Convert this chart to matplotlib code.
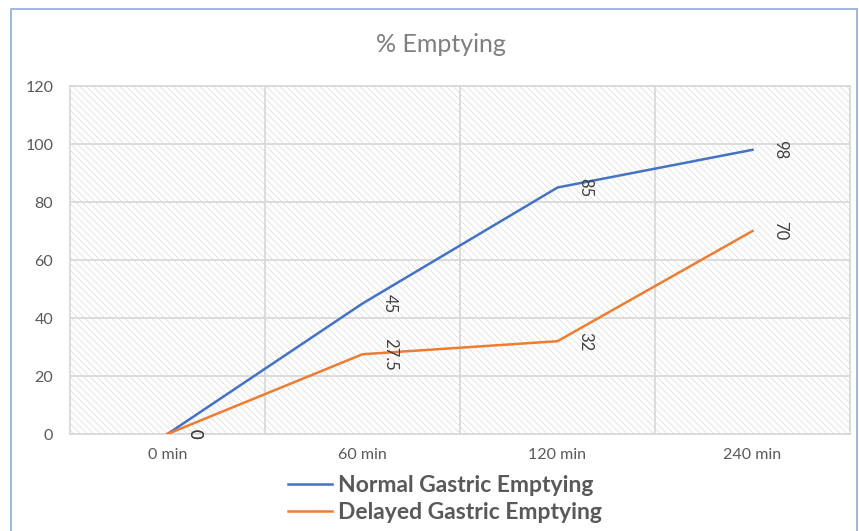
import matplotlib.pyplot as plt
import matplotlib as mpl
from matplotlib.patches import Rectangle

categories = ["0 min", "60 min", "120 min", "240 min"]
normal = [0, 45, 85, 98]
delayed = [0, 27.5, 32, 70]
series_names = ["Normal Gastric Emptying", "Delayed Gastric Emptying"]

plt.rcParams['font.family'] = ['Lato', 'DejaVu Sans']
mpl.rcParams['hatch.linewidth'] = 0.5
mpl.rcParams['hatch.color'] = '#d9d9d9'

fig = plt.figure(figsize=(8.59, 5.31), dpi=100)
ax = fig.add_axes([70 / 859, 1 - 434 / 531, 780 / 859, 348 / 531])

x = list(range(len(categories)))

# hatched plot area like the excel pattern fill
ax.add_patch(Rectangle((0, 0), 1, 1, transform=ax.transAxes, facecolor='white',
                       edgecolor='#d9d9d9', hatch='\\\\\\\\\\', linewidth=0, zorder=0))

ax.set_xlim(-0.5, 3.5)
ax.set_ylim(0, 120)
ax.set_yticks(range(0, 121, 20))
ax.set_xticks(x)
ax.set_xticklabels(categories)
ax.set_xticks([0.5, 1.5, 2.5], minor=True)

ax.grid(axis='y', color='#d9d9d9', linewidth=1.3, zorder=1)
ax.grid(axis='x', which='minor', color='#d9d9d9', linewidth=1.3, zorder=1)
ax.tick_params(axis='both', which='both', length=0, labelsize=11.5, colors='#595959')
ax.tick_params(axis='x', pad=10)
ax.tick_params(axis='y', pad=12)
for s in ax.spines.values():
    s.set_color('#d9d9d9')
    s.set_linewidth(1.3)
ax.set_axisbelow(True)

l1, = ax.plot(x, normal, color='#4472C4', linewidth=1.8, zorder=3)
l2, = ax.plot(x, delayed, color='#ED7D31', linewidth=1.8, zorder=3)

for xs, ys in [(x, normal), (x, delayed)]:
    for xi, yi in zip(xs, ys):
        ax.annotate(str(yi), (xi, yi), xytext=(14, 0), textcoords='offset points',
                    rotation=-90, ha='left', va='center', fontsize=12,
                    color='#404040', zorder=4, annotation_clip=False)

fig.text(441 / 859, 1 - 44 / 531, "% Emptying", ha='center', va='center',
         fontsize=18, color='#7f7f7f')

fig.legend([l1, l2], series_names, loc='center',
           bbox_to_anchor=(445 / 859, 1 - 499 / 531), frameon=False,
           prop={'weight': 'bold', 'size': 16.5}, labelcolor='#595959',
           handlelength=1.9, handletextpad=0.25, labelspacing=0.28,
           borderpad=0)

fig.patches.append(Rectangle((10.5 / 859, -0.1), 846 / 859, 1.1 - 8.5 / 531,
                             transform=fig.transFigure, fill=False,
                             edgecolor='#8FAADC', linewidth=1.2))

fig.savefig("out.png", dpi=100)
